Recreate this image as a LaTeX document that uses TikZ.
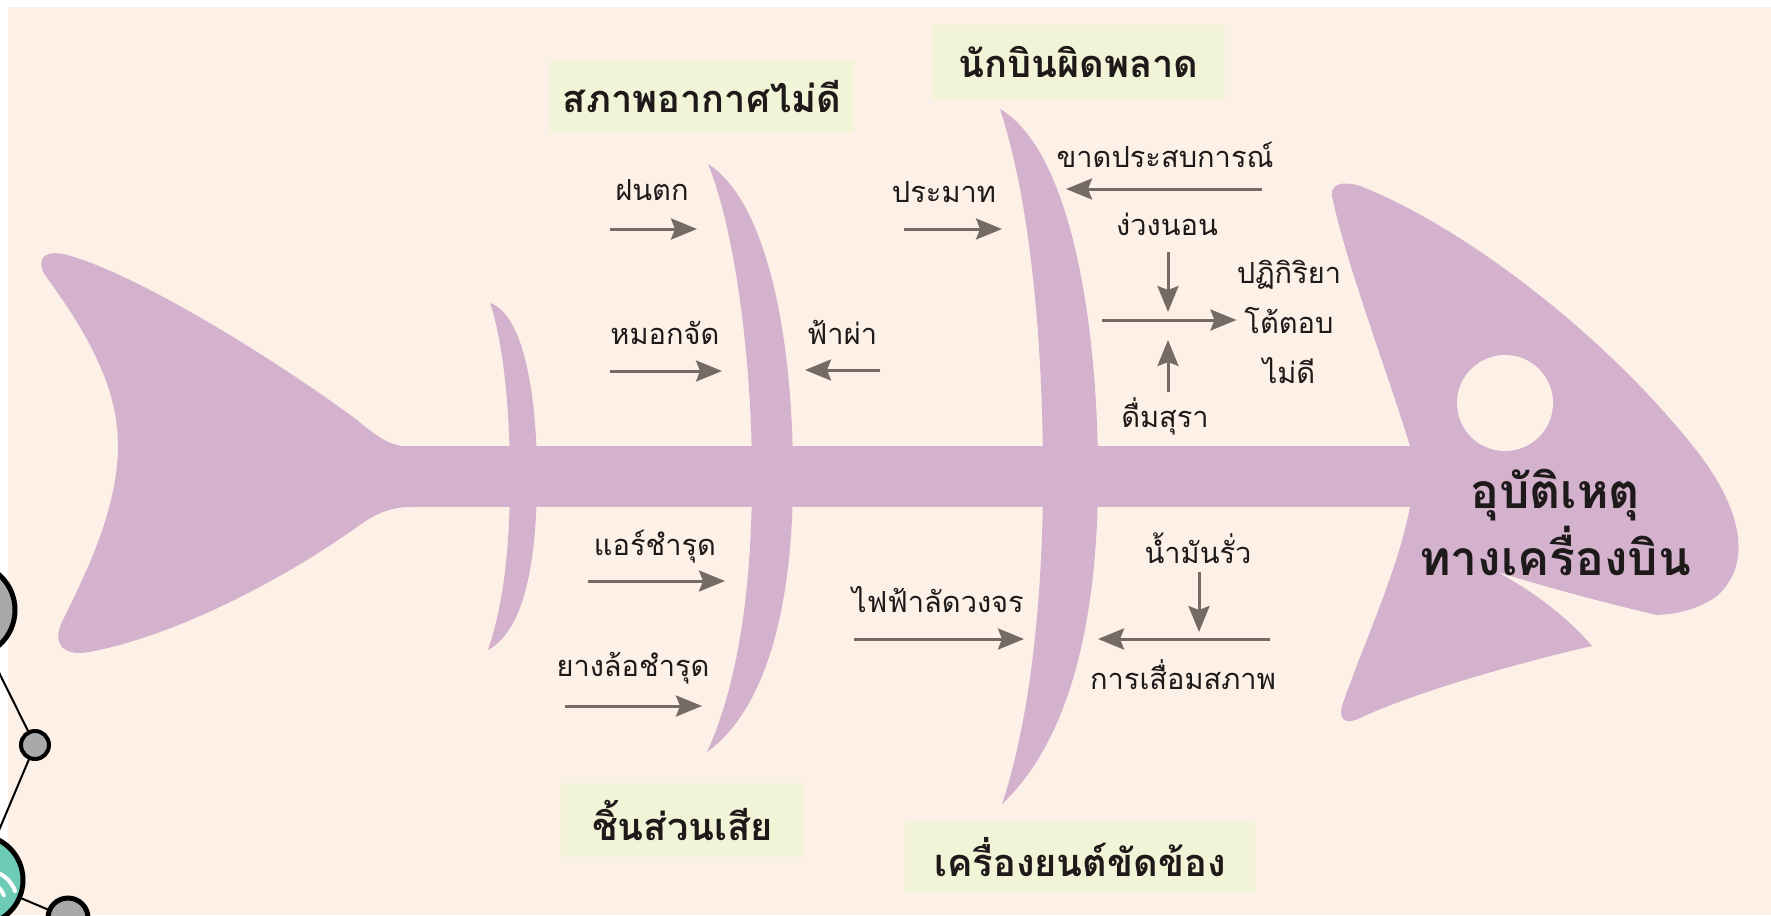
\documentclass[tikz,border=0pt]{standalone}
\usepackage{fontspec}
\usetikzlibrary{arrows.meta}
\newfontfamily\thaifont[Script=Thai]{Loma}
\definecolor{bgcream}{HTML}{FCF0E7}
\definecolor{fishpurple}{HTML}{D4B2CE}
\definecolor{tagbg}{HTML}{F1F4D6}
\definecolor{arrowgray}{HTML}{766B64}
\definecolor{ink}{HTML}{1E1A1A}
\definecolor{tealring}{HTML}{6DCBB6}
\definecolor{molgray}{HTML}{A9A9A9}

\tikzset{
  cause/.style={draw=arrowgray, line width=1.5pt,
    -{Stealth[length=13pt,width=10.5pt,inset=2pt]}},
  tagbox/.style={fill=tagbg, inner sep=0pt, text=ink,
    font=\thaifont\bfseries\fontsize{19pt}{22pt}\selectfont},
  lbl/.style={inner sep=0pt, text=ink,
    font=\thaifont\fontsize{14.5pt}{18pt}\selectfont},
  atom/.style={draw=black, fill=molgray},
  bond/.style={draw=black, line width=1pt},
}

\begin{document}
\begin{tikzpicture}[x=0.5pt,y=-0.5pt]
\useasboundingbox (0,0) rectangle (1771,915);
\clip (0,0) rectangle (1771,915);

% paper
\fill[white] (0,0) rectangle (1771,915);
\fill[bgcream] (8,7) rectangle (1771,915);

% molecule ornament at the left edge
\coordinate (m1) at (-32,610);
\coordinate (m2) at (35,745);
\coordinate (m3) at (-22,880);
\coordinate (m4) at (68,918);
\coordinate (wifi) at (-15,902);
\draw[bond] (m1) -- (m2) -- (m3) -- (m4);
\fill[atom, line width=2.5pt] (m1) circle (23.5pt);
\fill[atom, line width=2pt] (m2) circle (7pt);
\filldraw[draw=black, fill=tealring, line width=2.5pt] (m3) circle (22.5pt);
\fill[atom, line width=2.5pt] (m4) circle (10pt);
\draw[white, line width=2pt, line cap=round] (wifi) ++(20:10pt) arc (20:80:10pt);
\draw[white, line width=2pt, line cap=round] (wifi) ++(20:16pt) arc (20:80:16pt);

% tail fin
\fill[fishpurple] (411,447)
  .. controls (390,447) and (375,435) .. (357,420)
  .. controls (290,370) and (150,280) .. (71,256)
  .. controls (45,248) and (35,258) .. (45,275)
  .. controls (85,330) and (118,385) .. (118,445)
  .. controls (118,510) and (85,575) .. (62,622)
  .. controls (52,642) and (62,657) .. (89,652)
  .. controls (180,635) and (290,575) .. (357,527)
  .. controls (375,514) and (390,507) .. (411,507) -- cycle;

% backbone
\fill[fishpurple] (400,446) rectangle (1420,507);

% ribs
\fill[fishpurple] (490,303)
  .. controls (525,315) and (537,400) .. (537,476)
  .. controls (537,560) and (525,630) .. (488,650)
  .. controls (505,600) and (510,540) .. (510,476)
  .. controls (510,410) and (503,340) .. (490,303) -- cycle;
\fill[fishpurple] (708,164)
  .. controls (765,200) and (793,330) .. (793,476)
  .. controls (793,610) and (765,710) .. (707,752)
  .. controls (740,680) and (752,580) .. (752,476)
  .. controls (752,360) and (735,230) .. (708,164) -- cycle;
\fill[fishpurple] (1000,109)
  .. controls (1070,150) and (1098,320) .. (1098,476)
  .. controls (1098,620) and (1070,740) .. (1002,804)
  .. controls (1030,720) and (1043,600) .. (1043,476)
  .. controls (1043,340) and (1030,200) .. (1000,109) -- cycle;

% head with open mouth
\fill[fishpurple] (1410,446)
  .. controls (1390,380) and (1345,260) .. (1333,200)
  .. controls (1328,185) and (1340,180) .. (1360,186)
  .. controls (1460,225) and (1600,330) .. (1692,445)
  .. controls (1737,500) and (1757,560) .. (1717,596)
  .. controls (1700,608) and (1680,614) .. (1657,615)
  .. controls (1600,602) and (1540,585) .. (1497,572)
  .. controls (1535,592) and (1570,620) .. (1592,646)
  .. controls (1530,660) and (1420,690) .. (1360,718)
  .. controls (1342,727) and (1338,715) .. (1343,703)
  .. controls (1365,640) and (1398,570) .. (1410,507) -- cycle;
% eye
\fill[bgcream] (1505,403) circle (24pt);

% effect
\node[inner sep=0pt, text=ink, align=center,
  font=\thaifont\bfseries\fontsize{24pt}{33.5pt}\selectfont] (effect) at (1555,522)
  {อุบัติเหตุ\\ทางเครื่องบิน};

% category tags
\node[tagbox, minimum width=152pt, minimum height=36.5pt] (weather) at (702,96.5) {สภาพอากาศไม่ดี};
\node[tagbox, minimum width=146.5pt, minimum height=37.5pt] (pilot) at (1078.5,62.5) {นักบินผิดพลาด};
\node[tagbox, minimum width=121.5pt, minimum height=37pt] (parts) at (682.5,820) {ชิ้นส่วนเสีย};
\node[tagbox, minimum width=175pt, minimum height=35.5pt] (engine) at (1080,857.5) {เครื่องยนต์ขัดข้อง};

% weather causes
\node[lbl] (rain) at (652,190) {ฝนตก};
\node[lbl] (fog) at (665,333) {หมอกจัด};
\node[lbl] (bolt) at (842,332) {ฟ้าผ่า};
\coordinate (rainA) at (610,229);  \coordinate (rainB) at (697,229);
\coordinate (fogA) at (610,371);   \coordinate (fogB) at (722,371);
\coordinate (boltA) at (880,370);  \coordinate (boltB) at (805,370);
\draw[cause] (rainA) -- (rainB);
\draw[cause] (fogA) -- (fogB);
\draw[cause] (boltA) -- (boltB);

% part causes
\node[lbl] (air) at (655,547) {แอร์ชำรุด};
\node[lbl] (tyre) at (633,668) {ยางล้อชำรุด};
\coordinate (airA) at (588,581);   \coordinate (airB) at (725,581);
\coordinate (tyreA) at (565,706);  \coordinate (tyreB) at (702,706);
\draw[cause] (airA) -- (airB);
\draw[cause] (tyreA) -- (tyreB);

% pilot causes
\node[lbl] (careless) at (944,192) {ประมาท};
\node[lbl] (inexp) at (1165,155) {ขาดประสบการณ์};
\node[lbl] (sleepy) at (1167,224) {ง่วงนอน};
\node[lbl] (drunk) at (1165,416) {ดื่มสุรา};
\node[lbl, align=center, font=\thaifont\fontsize{14.5pt}{25pt}\selectfont] (react) at (1289,322)
  {ปฏิกิริยา\\โต้ตอบ\\ไม่ดี};
\coordinate (carelessA) at (904,229); \coordinate (carelessB) at (1002,229);
\coordinate (inexpA) at (1262,189);   \coordinate (inexpB) at (1066,189);
\coordinate (sleepyA) at (1168,252);  \coordinate (sleepyB) at (1168,312);
\coordinate (drunkA) at (1168,392);   \coordinate (drunkB) at (1168,340);
\coordinate (reactA) at (1102,320);
\draw[cause] (carelessA) -- (carelessB);
\draw[cause] (inexpA) -- (inexpB);
\draw[cause] (sleepyA) -- (sleepyB);
\draw[cause] (drunkA) -- (drunkB);
\draw[cause] (reactA) -- (react.west |- reactA);

% engine causes
\node[lbl] (short) at (938,600) {ไฟฟ้าลัดวงจร};
\node[lbl] (leak) at (1198,548) {น้ำมันรั่ว};
\node[lbl] (wear) at (1183,675) {การเสื่อมสภาพ};
\coordinate (shortA) at (854,639);  \coordinate (shortB) at (1024,639);
\coordinate (leakA) at (1199,572);  \coordinate (leakB) at (1199,632);
\coordinate (wearA) at (1270,639);  \coordinate (wearB) at (1098,639);
\draw[cause] (shortA) -- (shortB);
\draw[cause] (leakA) -- (leakB);
\draw[cause] (wearA) -- (wearB);
\end{tikzpicture}
\end{document}
